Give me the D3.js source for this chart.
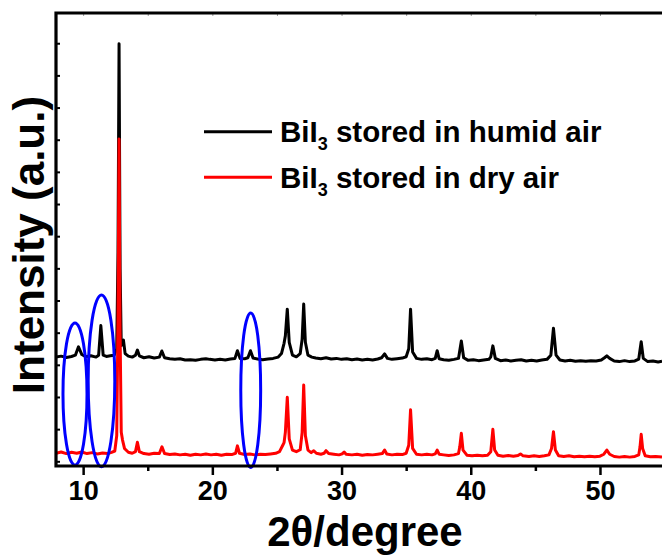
<!DOCTYPE html>
<html><head><meta charset="utf-8">
<script src="https://cdn.jsdelivr.net/npm/d3@7"></script>
<style>body{margin:0;background:#fff}svg{display:block}text{font-family:"Liberation Sans",Arial,sans-serif;font-weight:bold}</style>
</head><body><svg id="c" width="662" height="558"></svg>
<script>
// 2theta (degree), intensity (a.u., offset included)
const humid = [[7.9,3.24],[8.3,3.27],[8.7,3.23],[9.1,3.26],[9.4,3.30],[9.64,3.56],[9.9,3.32],[10.2,3.25],[10.6,3.28],[11.0,3.24],[11.2,3.30],[11.37,4.22],[11.55,3.30],[11.8,3.26],[12.1,3.28],[12.4,3.30],[12.6,3.5],[12.7,6.5],[12.78,12.98],[12.86,6.0],[12.95,3.6],[13.05,3.75],[13.12,3.77],[13.25,3.35],[13.5,3.27],[13.8,3.24],[14.05,3.30],[14.2,3.46],[14.35,3.28],[14.7,3.22],[15.1,3.25],[15.5,3.21],[15.9,3.24],[16.09,3.43],[16.3,3.22],[16.7,3.19],[17.1,3.17],[17.5,3.19],[17.9,3.15],[18.3,3.16],[18.7,3.14],[19.1,3.17],[19.5,3.19],[19.8,3.17],[20.2,3.15],[20.6,3.17],[21.0,3.15],[21.4,3.18],[21.75,3.20],[21.94,3.44],[22.15,3.20],[22.5,3.19],[22.75,3.22],[22.95,3.44],[23.15,3.21],[23.5,3.18],[23.9,3.16],[24.3,3.18],[24.7,3.20],[25.1,3.24],[25.35,3.35],[25.55,3.67],[25.65,3.9],[25.8,4.73],[25.95,3.7],[26.2,3.30],[26.5,3.25],[26.8,3.35],[26.95,3.8],[27.07,4.89],[27.2,3.7],[27.4,3.30],[27.7,3.24],[28.0,3.21],[28.4,3.19],[28.8,3.22],[29.2,3.18],[29.6,3.20],[30.0,3.17],[30.4,3.19],[30.8,3.16],[31.2,3.18],[31.6,3.15],[32.0,3.17],[32.4,3.15],[32.8,3.18],[33.1,3.22],[33.33,3.34],[33.55,3.20],[33.9,3.17],[34.3,3.19],[34.7,3.21],[35.0,3.25],[35.2,3.5],[35.34,4.73],[35.5,3.4],[35.8,3.20],[36.2,3.17],[36.6,3.19],[37.0,3.16],[37.25,3.20],[37.4,3.44],[37.55,3.19],[37.9,3.16],[38.3,3.14],[38.7,3.17],[39.05,3.20],[39.27,3.74],[39.45,3.22],[39.8,3.14],[40.2,3.16],[40.6,3.13],[41.0,3.15],[41.4,3.17],[41.55,3.25],[41.71,3.59],[41.9,3.20],[42.3,3.13],[42.7,3.15],[43.1,3.12],[43.5,3.14],[43.9,3.16],[44.3,3.12],[44.7,3.14],[45.1,3.12],[45.5,3.15],[45.9,3.17],[46.2,3.30],[46.4,4.14],[46.6,3.30],[46.9,3.15],[47.3,3.12],[47.7,3.14],[48.1,3.11],[48.5,3.13],[48.9,3.11],[49.3,3.13],[49.7,3.12],[50.1,3.15],[50.35,3.22],[50.53,3.28],[50.75,3.20],[51.1,3.12],[51.5,3.10],[51.9,3.13],[52.3,3.10],[52.7,3.12],[53.0,3.18],[53.19,3.72],[53.35,3.20],[53.7,3.10],[54.1,3.12],[54.5,3.09],[54.8,3.11]];
const dry = [[7.9,0.25],[8.3,0.29],[8.7,0.24],[9.1,0.28],[9.5,0.25],[9.9,0.29],[10.3,0.24],[10.7,0.27],[11.1,0.23],[11.5,0.26],[11.9,0.24],[12.2,0.28],[12.45,0.32],[12.6,0.8],[12.7,4.5],[12.78,10.02],[12.86,4.0],[12.95,0.9],[13.05,0.66],[13.2,0.40],[13.5,0.28],[13.8,0.25],[14.05,0.30],[14.2,0.59],[14.35,0.30],[14.7,0.24],[15.1,0.22],[15.5,0.25],[15.9,0.24],[16.1,0.45],[16.3,0.24],[16.7,0.21],[17.1,0.23],[17.5,0.20],[17.9,0.22],[18.3,0.19],[18.7,0.22],[19.1,0.20],[19.5,0.23],[19.9,0.20],[20.3,0.22],[20.7,0.19],[21.1,0.22],[21.5,0.21],[21.8,0.25],[21.94,0.48],[22.1,0.25],[22.5,0.21],[22.9,0.23],[23.3,0.20],[23.7,0.22],[24.1,0.21],[24.5,0.23],[24.9,0.25],[25.2,0.30],[25.45,0.50],[25.55,0.58],[25.65,0.9],[25.8,1.99],[25.95,0.7],[26.2,0.35],[26.5,0.30],[26.8,0.36],[26.95,0.9],[27.07,2.37],[27.2,0.8],[27.4,0.35],[27.65,0.27],[27.85,0.33],[28.05,0.25],[28.4,0.22],[28.65,0.25],[28.8,0.33],[29.0,0.24],[29.4,0.22],[29.8,0.20],[30.05,0.23],[30.2,0.29],[30.35,0.22],[30.8,0.20],[31.2,0.22],[31.6,0.19],[32.0,0.21],[32.4,0.20],[32.8,0.22],[33.15,0.24],[33.33,0.35],[33.5,0.23],[33.9,0.20],[34.3,0.22],[34.7,0.21],[35.0,0.25],[35.2,0.5],[35.34,1.60],[35.5,0.4],[35.8,0.22],[36.2,0.20],[36.6,0.22],[37.0,0.20],[37.25,0.23],[37.4,0.35],[37.55,0.22],[37.9,0.20],[38.3,0.18],[38.7,0.20],[39.05,0.24],[39.15,0.45],[39.27,0.87],[39.4,0.35],[39.7,0.19],[40.1,0.17],[40.5,0.19],[40.9,0.17],[41.3,0.19],[41.55,0.30],[41.71,0.995],[41.85,0.35],[42.1,0.19],[42.5,0.16],[42.9,0.18],[43.3,0.16],[43.65,0.18],[43.85,0.23],[44.05,0.17],[44.5,0.15],[44.9,0.17],[45.3,0.15],[45.7,0.17],[46.05,0.20],[46.25,0.40],[46.4,0.92],[46.55,0.35],[46.8,0.17],[47.2,0.15],[47.6,0.17],[48.0,0.14],[48.4,0.16],[48.8,0.14],[49.2,0.16],[49.6,0.14],[50.0,0.16],[50.3,0.22],[50.53,0.35],[50.75,0.22],[51.1,0.15],[51.5,0.13],[51.9,0.15],[52.3,0.13],[52.7,0.15],[53.0,0.20],[53.1,0.45],[53.19,0.84],[53.3,0.4],[53.5,0.17],[53.9,0.14],[54.3,0.15],[54.8,0.13]];
const seriesNames = ["stored in humid air","stored in dry air"];
const xTicks = [10,20,30,40,50];
const xMinorTicks = [15,25,35,45];
const yTicks = [0,1,2,3,4,5,6,7,8,9,10,11,12,13];
// highlight ellipses: centre (2theta, intensity), half-width (degree), half-height (a.u.)
const marks = [[9.37,2.09,0.93,2.21],[11.42,2.50,1.03,2.67],[22.97,2.21,0.77,2.40]];

const svg = d3.select("#c");
const L=56, R=662, T=13, B=466;
const x = d3.scaleLinear().domain([7.9,54.8]).range([L,R]);
const y = d3.scaleLinear().domain([-0.146,13.94]).range([B,T]);

svg.append("clipPath").attr("id","clip").append("rect").attr("x",L).attr("y",T).attr("width",R-L).attr("height",B-T);
const line = d3.line().x(d=>x(d[0])).y(d=>y(d[1]));
const g = svg.append("g").attr("clip-path","url(#clip)");
g.append("path").datum(humid).attr("d",line).attr("fill","none").attr("stroke","#000").attr("stroke-width",3).attr("stroke-linejoin","round");
g.append("path").datum(dry).attr("d",line).attr("fill","none").attr("stroke","#ff0000").attr("stroke-width",3).attr("stroke-linejoin","round");

// ellipses
svg.selectAll("ellipse.m").data(marks).join("ellipse")
  .attr("cx",d=>x(d[0])).attr("cy",d=>y(d[1]))
  .attr("rx",d=>x(d[0]+d[2])-x(d[0])).attr("ry",d=>y(d[1]-d[3])-y(d[1]))
  .attr("fill","none").attr("stroke","#0000ff").attr("stroke-width",3);

// axes
const xAxis = svg.append("g").attr("transform",`translate(0,${B})`)
  .call(d3.axisBottom(x).tickValues(xTicks).tickSize(9).tickPadding(6).tickFormat(d3.format("d")));
xAxis.select(".domain").remove();
xAxis.selectAll("line").attr("stroke-width",2.5);
xAxis.selectAll("text").attr("font-size",27).attr("fill","#000").style("font-family","'Liberation Sans',Arial,sans-serif").style("font-weight","bold");
const xMinor = svg.append("g").attr("transform",`translate(0,${B})`)
  .call(d3.axisBottom(x).tickValues(xMinorTicks).tickSize(5).tickFormat(""));
xMinor.select(".domain").remove();
xMinor.selectAll("line").attr("stroke-width",2.5);

const topAx = svg.append("g").attr("transform",`translate(0,${T})`)
  .call(d3.axisBottom(x).tickValues(xTicks.concat(xMinorTicks)).tickSize(3).tickFormat(""));
topAx.select(".domain").remove();
topAx.selectAll("line").attr("stroke","#999").attr("stroke-width",1);

const yAxis = svg.append("g").attr("transform",`translate(${L},0)`)
  .call(d3.axisRight(y).tickValues(yTicks).tickSize(4).tickFormat(""));
yAxis.select(".domain").remove();
yAxis.selectAll("line").attr("stroke-width",2);

// frame lines
svg.append("path").attr("d",`M${R},${T}H${L}V${B}H${R}`).attr("fill","none").attr("stroke","#000").attr("stroke-width",3.2);

// titles
svg.append("text").attr("x",365).attr("y",546).attr("text-anchor","middle").attr("font-size",42).text("2θ/degree");
svg.append("text").attr("transform","translate(44,245) rotate(-90)").attr("text-anchor","middle").attr("font-size",44).text("Intensity (a.u.)");

// legend
const colors = ["#000","#ff0000"];
seriesNames.forEach((s,i)=>{
  const yy = 131.7 + i*45.6;
  svg.append("line").attr("x1",204).attr("x2",272).attr("y1",yy).attr("y2",yy).attr("stroke",colors[i]).attr("stroke-width",3);
  const t = svg.append("text").attr("x",280).attr("y",yy+10.5).attr("font-size",29.5);
  t.append("tspan").text("BiI");
  t.append("tspan").attr("font-size",18).attr("dy",8).text("3");
  t.append("tspan").attr("dy",-8).text(" "+s);
});
</script></body></html>
